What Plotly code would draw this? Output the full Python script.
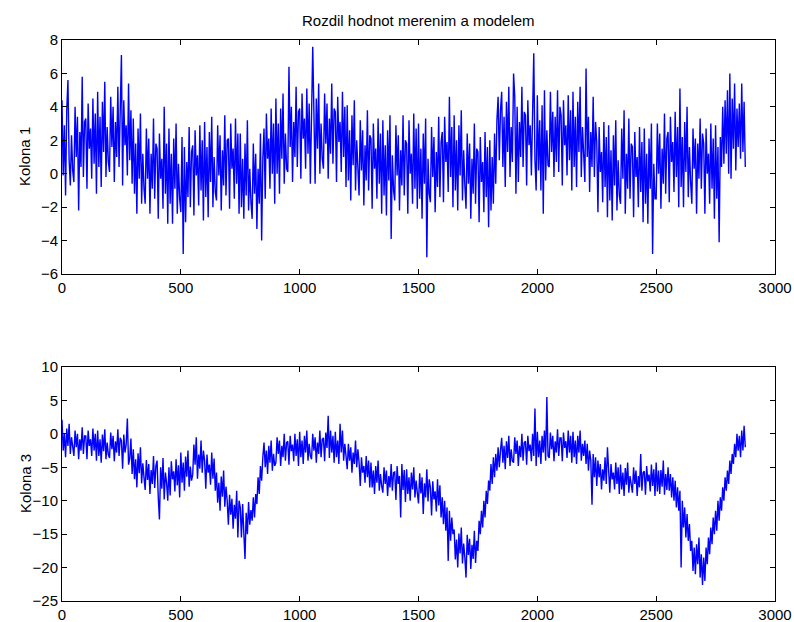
import plotly.graph_objects as go

step = 5
kolona1 = [
    4.4, -0.1, 2.9, -1.3, 3.8, 5.6, 0.8, -0.7, 2.3, 0.2,
    -0.5, 4.0, 1.0, 3.4, -2.2, 2.5, 0.4, 5.8, -0.2, 3.1,
    3.3, -0.9, 4.2, 1.5, 2.7, -0.3, 4.5, 0.6, 3.6, -1.2,
    4.9, 0.4, 3.4, -0.8, 4.3, 1.3, 5.5, -0.2, 2.8, 0.7,
    0.1, 4.6, 1.6, 4.0, -0.5, 3.1, 1.0, 5.2, 0.4, 3.7,
    7.1, -0.7, 4.4, 1.7, 2.9, -0.1, 5.4, 0.8, 3.8, -0.6,
    3.3, -1.2, 1.8, -2.4, 2.7, -0.3, 3.6, -1.8, 1.2, -0.9,
    -1.8, 2.7, -0.3, 2.1, -2.4, 1.2, -0.9, 3.3, -1.5, 1.8,
    1.5, -2.7, 2.4, -0.3, 0.9, -2.1, 4.0, -1.2, 1.8, -3.0,
    2.7, -1.8, 1.2, -3.0, 2.1, -0.9, 3.0, -2.4, 0.6, -1.5,
    -2.3, 2.2, -4.8, 1.6, -2.9, 0.7, -1.4, 2.8, -2.0, 1.3,
    1.7, -2.5, 2.6, -0.1, 1.1, -1.9, 2.9, -1.0, 2.0, -2.8,
    3.1, -1.4, 1.6, -2.6, 2.5, -0.5, 3.4, -2.0, 1.0, -1.1,
    -1.6, 2.9, -0.1, 2.3, -2.2, 1.4, -0.7, 3.5, -1.3, 2.0,
    2.1, -2.1, 3.0, 0.3, 1.5, -1.5, 3.3, -0.6, 2.4, -2.4,
    2.4, -2.0, 0.9, -2.7, 1.8, -1.3, 3.2, -2.2, 0.3, -1.7,
    -2.7, 1.8, -1.2, 1.2, -3.3, 0.3, -1.8, 2.4, -4.0, 0.9,
    2.7, -1.5, 3.6, 0.9, 2.1, -0.9, 3.9, 0.0, 3.0, -1.8,
    4.5, 0.0, 3.0, -1.2, 3.9, 0.9, 4.8, -0.6, 2.4, 0.3,
    0.1, 6.4, 1.6, 4.0, -0.5, 3.1, 1.0, 5.2, 0.4, 3.7,
    3.9, -0.3, 4.8, 2.1, 3.3, 0.3, 5.1, 1.2, 4.2, -0.6,
    5.1, 7.6, 3.6, -0.6, 4.5, 1.5, 5.4, 0.0, 3.0, 0.9,
    0.3, 4.8, 1.8, 4.2, -0.3, 3.3, 1.2, 5.4, 0.6, 3.9,
    3.7, -0.5, 4.6, 1.9, 3.1, 0.1, 4.9, 1.0, 4.0, -0.8,
    4.1, -0.4, 2.6, -1.6, 3.5, 0.5, 4.4, -1.0, 2.0, -0.1,
    -1.3, 3.2, 0.2, 2.6, -1.9, 1.7, -0.4, 3.8, -1.0, 2.3,
    2.1, -2.1, 3.0, 0.3, 1.5, -1.5, 3.3, -0.6, 2.4, -2.4,
    3.2, -1.3, 1.7, -2.5, 2.6, -0.4, 3.5, -3.9, 1.1, -1.0,
    -1.6, 2.9, -0.1, 2.3, -2.2, 1.4, -0.7, 3.5, -1.3, 2.0,
    1.8, -2.4, 3.2, 0.0, 1.2, -1.8, 3.6, -0.9, 2.7, -2.1,
    3.0, -1.5, 1.5, -2.7, 2.4, -0.6, 3.3, -5.0, 0.9, -1.2,
    -1.7, 2.8, -0.2, 2.2, -2.3, 1.3, -0.8, 3.4, -1.4, 1.9,
    2.5, -1.7, 3.4, 0.7, 1.9, -1.1, 4.6, -0.2, 2.8, -2.0,
    3.5, -1.0, 2.0, -2.2, 2.9, -0.1, 3.8, -1.6, 1.4, -0.7,
    -2.1, 2.4, -0.6, 1.8, -2.7, 0.9, -1.2, 3.0, -1.8, 1.5,
    1.3, -2.9, 2.2, -0.5, 0.7, -2.3, 2.5, -1.4, 1.6, -3.2,
    2.0, -2.2, 1.0, -1.8, 2.4, -0.6, 3.2, 4.6, 0.8, 3.8,
    4.9, 0.4, 3.4, -0.8, 4.3, 1.3, 5.2, -0.2, 2.8, 0.7,
    6.0, 4.6, -1.2, 4.0, -0.5, 3.1, 1.0, 5.2, 0.4, 3.7,
    3.5, -0.7, 4.4, 1.7, 2.9, -0.1, 4.7, 7.2, 0.8, -1.0,
    4.7, 0.2, 3.2, -1.0, 4.1, -2.4, 5.0, -0.4, 2.6, 0.5,
    0.4, 4.9, 1.3, 3.7, -0.2, 3.4, 0.7, 5.0, 0.1, 4.0,
    3.5, -0.7, 4.4, 1.7, 2.9, -0.1, 4.7, 0.8, 3.8, -1.0,
    4.9, 0.4, 3.4, -0.8, 4.3, 1.3, 5.2, -0.2, 2.8, 0.7,
    -0.5, 6.3, 1.0, 3.4, -1.1, 2.5, 0.4, 4.6, -0.2, 3.1,
    1.9, -2.3, 2.8, 0.1, 1.3, -1.7, 3.1, -0.8, 2.2, -2.6,
    2.9, -1.6, 1.4, -2.8, 2.3, -0.7, 3.2, -2.2, 0.8, -1.3,
    -1.8, 2.7, -0.3, 3.8, -2.4, 1.2, -0.9, 3.3, -1.5, 1.8,
    1.6, -2.6, 2.5, -0.2, 1.0, -2.0, 2.8, -1.1, 1.9, -2.9,
    2.7, -1.8, 1.2, -3.0, 2.1, -0.9, 3.0, -4.8, 0.6, -1.5,
    -1.5, 3.0, 0.0, 2.4, -2.1, 1.5, -0.6, 3.6, -1.2, 2.1,
    2.5, -1.7, 3.4, 0.7, 1.9, -1.1, 3.7, -0.2, 2.8, -2.0,
    5.1, -0.8, 2.2, -2.0, 3.1, 0.1, 4.0, -1.4, 1.6, -0.5,
    -1.8, 2.7, 0.3, 2.1, -2.4, 1.8, -0.3, 3.3, -0.9, 2.4,
    1.8, -2.4, 2.7, 0.0, 1.2, -1.8, 3.0, -0.9, 2.1, -2.7,
    2.9, -1.5, 1.6, -4.1, 2.2, 0.4, 4.0, 0.6, 4.4, 1.2,
    5.0, 0.0, 6.0, -0.3, 4.5, 1.5, 5.4, 0.2, 3.9, 1.6,
    4.2, 0.9, 5.4, 1.3, 4.3, 0.4,
]
kolona3 = [
    2.1, -2.5, 0.0, -3.5, 0.8, -1.8, 1.5, -3.0, -0.5, -2.3,
    -3.3, 0.5, -2.0, 0.0, -3.8, -0.8, -2.5, 1.0, -3.0, -0.3,
    -0.3, -3.8, 0.5, -1.8, -0.8, -3.3, 0.8, -2.5, 0.0, -4.0,
    0.5, -3.3, -0.8, -4.3, -0.1, -2.6, 0.7, -3.8, -1.3, -3.1,
    -3.6, 0.2, -2.3, -0.3, -4.1, -1.1, -2.8, 0.7, -3.3, -0.6,
    -1.0, -5.2, -0.1, -2.8, -1.6, 2.3, -4.6, -3.7, -0.7, -6.0,
    -2.3, -6.8, -3.8, -8.0, -2.9, -5.9, -2.0, -7.4, -4.4, -6.5,
    -8.4, -3.9, -6.9, -4.5, -9.0, -5.4, -7.5, -3.3, -8.1, -4.8,
    -4.0, -9.5, -12.8, -5.0, -8.2, -3.6, -9.8, -5.8, -7.3, -10.0,
    -5.0, -9.2, -4.1, -6.8, -5.6, -8.6, -3.8, -7.7, -4.7, -9.5,
    -2.8, -7.3, -4.3, -8.5, -3.4, -6.4, -2.5, -7.9, -4.9, -7.0,
    -6.1, -1.6, -4.6, -0.5, -6.7, -3.1, -5.2, -1.0, -5.8, -2.5,
    -4.0, -8.2, -3.1, -5.8, -4.6, -7.6, -2.8, -6.7, -3.7, -8.5,
    -5.8, -10.3, -7.3, -11.5, -6.4, -9.4, -5.5, -10.9, -7.9, -10.0,
    -13.6, -9.1, -12.1, -9.7, -14.2, -10.6, -12.7, -8.5, -15.5, -10.0,
    -11.0, -15.5, -10.5, -14.8, -18.7, -11.8, -15.0, -10.2, -13.6, -11.4,
    -13.0, -9.5, -12.5, -9.0, -10.5, -6.5, -9.0, -4.8, -7.0, -3.5,
    -1.3, -5.0, -2.5, -6.0, -1.8, -4.3, -1.0, -5.5, -3.0, -4.8,
    -4.3, -0.5, -3.0, -1.0, -4.8, -1.8, -3.5, 0.0, -4.0, -1.3,
    -1.1, -4.6, -0.3, -2.6, -1.6, -4.1, 0.0, -3.3, -0.8, -4.8,
    0.3, -3.5, -1.0, -4.5, -0.3, -2.8, 0.5, -4.0, -1.5, -3.3,
    -3.8, 0.0, -2.5, -0.5, -4.3, -1.3, -3.0, 0.5, -3.5, -0.8,
    -0.6, -4.1, 0.2, -2.1, 2.7, -3.6, 0.5, -2.8, -0.3, -4.3,
    0.3, -3.5, -1.0, -4.5, 1.5, -2.8, 0.5, -4.0, -1.5, -3.3,
    -5.3, -1.5, -4.0, -2.0, -5.8, -2.8, -4.5, -1.0, -5.0, -2.3,
    -4.3, -7.8, -3.5, -5.8, -4.8, -7.3, -3.3, -6.5, -4.0, -8.0,
    -4.3, -8.0, -5.5, -9.0, -4.8, -7.3, -4.0, -8.5, -6.0, -7.8,
    -8.8, -5.0, -7.5, -5.5, -9.3, -6.3, -8.0, -4.5, -8.5, -5.8,
    -5.7, -9.9, -4.8, -7.5, -6.3, -12.5, -4.5, -8.4, -5.4, -10.2,
    -5.3, -9.0, -6.5, -10.0, -5.8, -8.3, -5.0, -9.5, -7.0, -8.8,
    -10.4, -5.9, -8.9, -6.5, -12.0, -7.4, -9.5, -5.3, -10.1, -6.8,
    -8.0, -12.2, -7.1, -9.8, -8.6, -11.6, -6.8, -10.7, -7.7, -12.5,
    -9.5, -13.5, -10.0, -14.5, -11.0, -19.0, -11.5, -16.0, -12.5, -15.0,
    -14.3, -18.8, -15.8, -20.0, -14.9, -17.9, -14.0, -19.4, -16.4, -18.5,
    -21.5, -15.1, -18.1, -15.7, -20.2, -16.6, -18.7, -14.5, -19.3, -16.0,
    -17.5, -13.0, -15.0, -11.5, -14.0, -10.0, -12.5, -8.5, -10.5, -7.0,
    -8.5, -4.5, -7.5, -3.5, -6.5, -3.0, -5.5, -2.0, -5.0, -2.5,
    -0.6, -4.3, -1.8, -5.3, -1.1, -3.6, -0.3, -4.8, -2.3, -4.1,
    -4.3, -0.5, -3.0, -1.0, -4.8, -1.8, -3.5, 0.0, -4.0, -1.3,
    -1.1, -4.6, -0.3, -2.6, -1.6, -4.1, 0.0, -3.3, 3.8, -4.8,
    0.3, -3.5, -1.0, -4.5, -0.3, -2.8, 0.5, -4.0, 5.5, -3.3,
    -3.6, 0.2, -2.3, -0.3, -4.1, -1.1, -2.8, 0.7, -3.3, -0.6,
    -0.6, -4.1, 0.2, -2.1, -1.1, -3.6, 0.5, -2.8, -0.3, -4.3,
    0.3, -3.5, -1.0, -4.5, -0.3, -2.8, 0.5, -4.0, -1.5, -3.3,
    -1.0, -4.5, -1.5, -5.5, -2.5, -4.0, -10.6, -3.0, -6.5, -3.5,
    -7.8, -4.0, -6.5, -4.5, -8.3, -5.3, -7.0, -3.5, -7.5, -2.0,
    -5.3, -8.8, -4.5, -6.8, -5.8, -8.3, -4.3, -7.5, -5.0, -9.0,
    -4.6, -8.3, -5.8, -9.3, -5.1, -7.6, -4.3, -8.8, -6.3, -8.1,
    -8.8, -5.0, -7.5, -5.5, -9.3, -6.3, -8.0, -3.0, -8.5, -5.8,
    -5.6, -9.1, -4.8, -7.1, -6.1, -8.6, -4.6, -7.8, -5.3, -9.3,
    -4.3, -8.6, -5.5, -9.0, -5.4, -7.9, -4.0, -9.1, -6.0, -8.4,
    -5.0, -8.5, -6.0, -9.5, -6.5, -10.0, -7.0, -11.0, -8.0, -11.5,
    -8.5, -20.0, -10.0, -14.0, -11.0, -15.5, -12.0, -16.0, -13.5, -17.5,
    -16.0, -20.5, -17.0, -21.0, -16.5, -19.5, -15.5, -21.5, -18.0, -22.6,
    -18.5, -22.0, -17.0, -19.5, -15.5, -18.0, -14.0, -16.5, -12.5, -15.0,
    -11.5, -14.5, -10.0, -13.0, -9.5, -11.5, -8.0, -10.0, -6.5, -8.5,
    -5.5, -7.5, -4.0, -6.0, -3.0, -4.5, -1.5, -3.5, 0.0, -2.5,
    -0.3, -3.5, 0.5, -2.5, 1.2, -2.0,
]
x_ticks = [0, 500, 1000, 1500, 2000, 2500, 3000]
y1_ticks = [-6, -4, -2, 0, 2, 4, 6, 8]
y3_ticks = [-25, -20, -15, -10, -5, 0, 5, 10]
title_text = "Rozdil hodnot merenim a modelem"
ylabel1 = "Kolona 1"
ylabel3 = "Kolona 3"

samples1 = list(range(0, step * len(kolona1), step))
samples3 = list(range(0, step * len(kolona3), step))

FONT = "Liberation Sans, Arial, Helvetica, sans-serif"
FS = 15
LINE = dict(color="#0000ff", width=1.4)

fig = go.Figure()
fig.add_trace(go.Scatter(x=samples1, y=kolona1, mode="lines", line=LINE,
                         xaxis="x", yaxis="y", showlegend=False, hoverinfo="skip"))
fig.add_trace(go.Scatter(x=samples3, y=kolona3, mode="lines", line=LINE,
                         xaxis="x2", yaxis="y2", showlegend=False, hoverinfo="skip"))

axis_common = dict(showline=True, linecolor="black", linewidth=1, mirror="ticks",
                   ticks="inside", ticklen=5, tickwidth=1, tickcolor="black",
                   showgrid=False, zeroline=False, automargin=False,
                   tickfont=dict(family=FONT, size=FS, color="black"))

top_dom = [0.5829, 1.0]
bot_dom = [0.0, 0.4171]

fig.update_layout(
    template="none",
    width=794, height=622, autosize=False,
    margin=dict(l=62, r=19, t=40, b=21, pad=0),
    paper_bgcolor="white", plot_bgcolor="white",
    xaxis=dict(domain=[0, 1], anchor="y", range=[0, 3000], tickvals=x_ticks, **axis_common),
    yaxis=dict(domain=top_dom, anchor="x", range=[-6, 8], tickvals=y1_ticks, **axis_common),
    xaxis2=dict(domain=[0, 1], anchor="y2", range=[0, 3000], tickvals=x_ticks, **axis_common),
    yaxis2=dict(domain=bot_dom, anchor="x2", range=[-25, 10], tickvals=y3_ticks, **axis_common),
    annotations=[
        dict(text=title_text, xref="paper", yref="paper", x=0.5, y=1.0,
             xanchor="center", yanchor="middle", yshift=20, showarrow=False,
             font=dict(family=FONT, size=FS, color="black")),
        dict(text=ylabel1, xref="paper", yref="paper", x=0, y=sum(top_dom) / 2,
             xanchor="center", yanchor="middle", xshift=-37, textangle=-90, showarrow=False,
             font=dict(family=FONT, size=FS, color="black")),
        dict(text=ylabel3, xref="paper", yref="paper", x=0, y=sum(bot_dom) / 2,
             xanchor="center", yanchor="middle", xshift=-37, textangle=-90, showarrow=False,
             font=dict(family=FONT, size=FS, color="black")),
    ],
)

fig.write_html("out.html")
